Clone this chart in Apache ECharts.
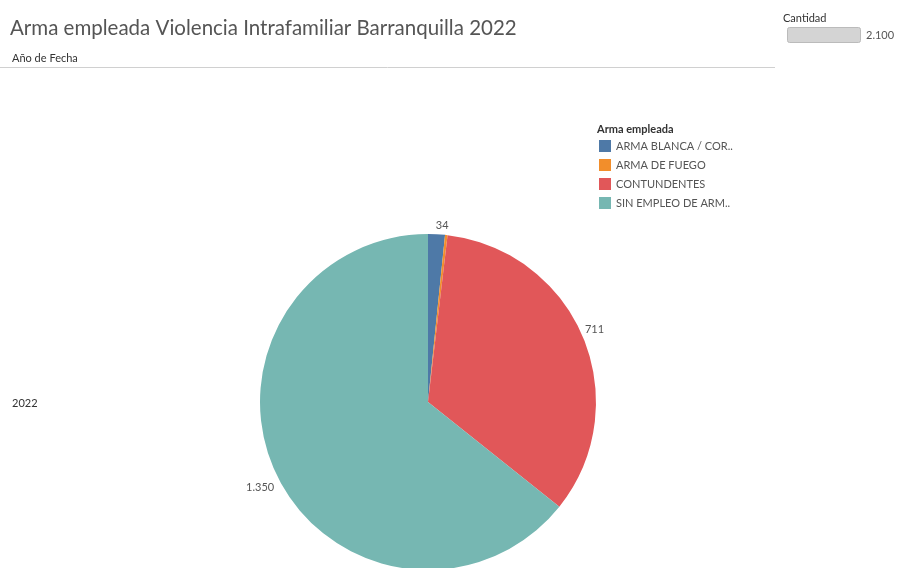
<!DOCTYPE html>
<html><head><meta charset="utf-8">
<script src="https://cdn.jsdelivr.net/npm/echarts@6/dist/echarts.min.js"></script>
<style>html,body{margin:0;padding:0;background:#fff}#c{width:899px;height:568px}</style>
</head><body><div id="c"></div>
<script>
var categories = ['ARMA BLANCA / CORTOPUNZANTE', 'ARMA DE FUEGO', 'CONTUNDENTES', 'SIN EMPLEO DE ARMAS'];
var values = [34, 5, 711, 1350];
var showLabel = [true, false, true, true];
var colors = ['#4e79a7', '#f28e2b', '#e15759', '#76b7b2'];
var yearLabel = '2022';
var sizeMax = '2.100';

function fmt(n){ return String(n).replace(/\B(?=(\d{3})+(?!\d))/g, '.'); }
var labelNudge = [[-6,-3],[0,0],[-9,-6],[8,10]];

var chart = echarts.init(document.getElementById('c'));
var FONT = 'Lato, "Open Sans", sans-serif';
chart.setOption({
  animation: false,
  color: colors,
  textStyle: {fontFamily: FONT},
  title: [
    {text: 'Arma empleada Violencia Intrafamiliar Barranquilla 2022', left: 5, top: 13,
     textStyle: {fontSize: 20.5, fontWeight: 'normal', color: '#555', fontFamily: FONT}},
    {text: 'Año de Fecha', left: 7, top: 48, textStyle: {fontSize: 11, fontWeight: 'normal', color: '#333', fontFamily: FONT}},
    {text: yearLabel, left: 7, top: 393, textStyle: {fontSize: 11, fontWeight: 'normal', color: '#333', fontFamily: FONT}},
    {text: 'Arma empleada', left: 592, top: 119, textStyle: {fontSize: 11, fontWeight: 'bold', color: '#333', fontFamily: FONT}},
    {text: 'Cantidad', left: 778, top: 8, textStyle: {fontSize: 11, fontWeight: 'normal', color: '#333', fontFamily: FONT}},
    {text: sizeMax, left: 861, top: 25, textStyle: {fontSize: 11, fontWeight: 'normal', color: '#555', fontFamily: FONT}}
  ],
  graphic: [
    {type: 'line', shape: {x1: 0, y1: 67.5, x2: 775, y2: 67.5}, style: {stroke: '#d0d0d0', lineWidth: 1}},
    {type: 'rect', shape: {x: 787.5, y: 27.5, width: 73, height: 15, r: 2}, style: {fill: '#d4d4d4', stroke: '#bbb', lineWidth: 1}}
  ],
  legend: {
    orient: 'vertical', left: 594, top: 135, itemWidth: 12, itemHeight: 12, itemGap: 7,
    icon: 'rect', data: categories,
    formatter: function(n){ return n.length > 17 ? n.slice(0,17) + '..' : n; },
    textStyle: {fontSize: 11, color: '#555', fontFamily: FONT}
  },
  series: [{
    type: 'pie', center: [428, 402], radius: 168, startAngle: 90, clockwise: true,
    data: categories.map(function(c, i){
      return {name: c, value: values[i], label: {show: showLabel[i]}};
    }),
    label: {position: 'outside', formatter: function(p){ return fmt(p.value); },
            fontSize: 11, color: '#555', fontFamily: FONT},
    labelLine: {show: false, length: 6, length2: 0},
    labelLayout: function(p){ var n = labelNudge[p.dataIndex]; return {dx: n[0], dy: n[1]}; },
    emphasis: {disabled: true}
  }]
});
</script></body></html>
